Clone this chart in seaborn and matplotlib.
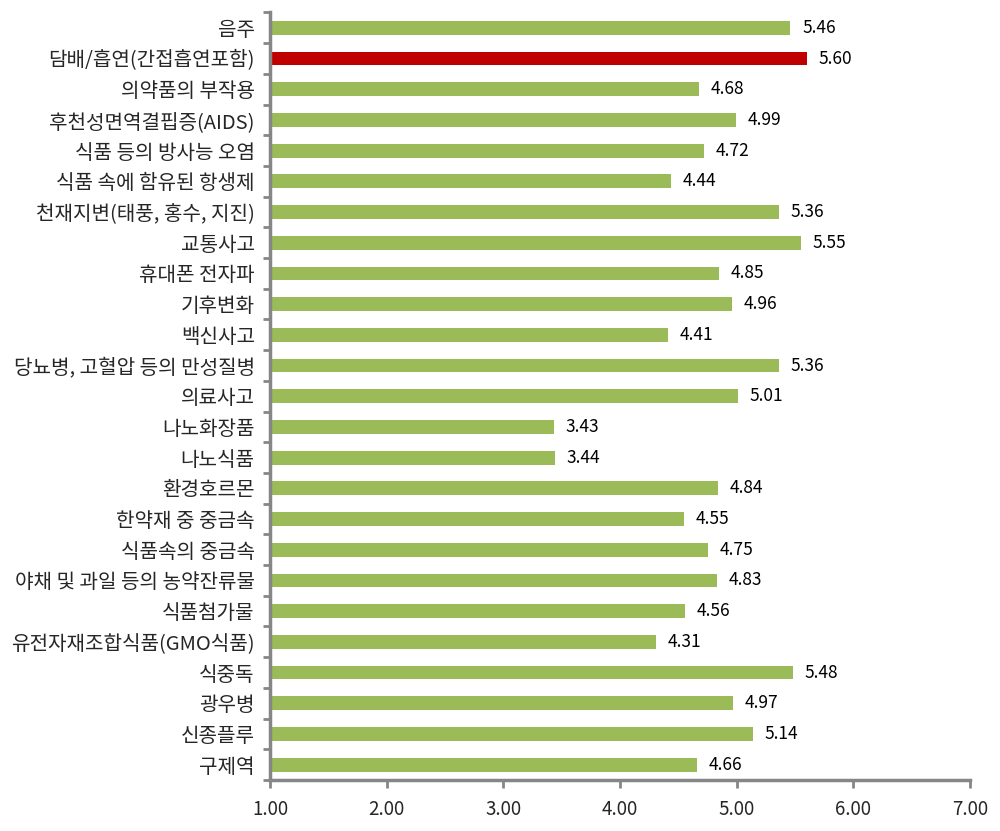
import matplotlib
matplotlib.use("Agg")
import matplotlib.pyplot as plt
import seaborn as sns
import numpy as np
import pandas as pd

categories = ["음주", "담배/흡연(간접흡연포함)", "의약품의 부작용", "후천성면역결핍증(AIDS)",
              "식품 등의 방사능 오염", "식품 속에 함유된 항생제", "천재지변(태풍, 홍수, 지진)",
              "교통사고", "휴대폰 전자파", "기후변화", "백신사고", "당뇨병, 고혈압 등의 만성질병",
              "의료사고", "나노화장품", "나노식품", "환경호르몬", "한약재 중 중금속",
              "식품속의 중금속", "야채 및 과일 등의 농약잔류물", "식품첨가물",
              "유전자재조합식품(GMO식품)", "식중독", "광우병", "신종플루", "구제역"]
values = [5.46, 5.60, 4.68, 4.99, 4.72, 4.44, 5.36, 5.55, 4.85, 4.96, 4.41, 5.36,
          5.01, 3.43, 3.44, 4.84, 4.55, 4.75, 4.83, 4.56, 4.31, 5.48, 4.97, 5.14, 4.66]
highlight = "담배/흡연(간접흡연포함)"
xticks = [1.0, 2.0, 3.0, 4.0, 5.0, 6.0, 7.0]

sns.set_style("white")
plt.rcParams['font.family'] = ['Noto Sans CJK KR', 'DejaVu Sans']

df = pd.DataFrame({"cat": categories, "val": values})
palette = {c: ("#C00000" if c == highlight else "#9BBB59") for c in categories}

fig = plt.figure(figsize=(10, 8.31), dpi=100)
ax = fig.add_axes([0.27, 0.0614, 0.70, 0.9236])

sns.barplot(data=df, x="val", y="cat", hue="cat", palette=palette, order=categories,
            orient="h", width=0.45, legend=False, ax=ax, saturation=1.0)

# bars start from 1.00 (axis minimum)
for p, v in zip(ax.patches, values):
    p.set_x(1.0)
    p.set_width(v - 1.0)
    p.set_linewidth(0)

ax.set_xlim(1.0, 7.0)
ax.set_ylim(len(categories) - 0.5, -0.5)
ax.set_xticks(xticks)
ax.set_xticklabels([f"{t:.2f}" for t in xticks], fontsize=13.5)
ax.set_yticks(range(len(categories)))
ax.set_yticklabels(categories, fontsize=14.5)
ax.set_yticks(np.arange(-0.5, len(categories), 1.0), minor=True)
ax.tick_params(axis="y", which="major", left=False, length=0, pad=11)
ax.tick_params(axis="y", which="minor", left=True, length=5, width=2, color="#868686", direction="out")
ax.tick_params(axis="x", which="major", bottom=True, length=6, width=2, color="#868686", direction="out", pad=8)
ax.set_xlabel("")
ax.set_ylabel("")

for s in ["top", "right"]:
    ax.spines[s].set_visible(False)
for s in ["left", "bottom"]:
    ax.spines[s].set_color("#868686")
    ax.spines[s].set_linewidth(2.5)

for i, v in enumerate(values):
    ax.text(v + 0.1, i, f"{v:.2f}", va="center", ha="left", fontsize=12.5, color="#000000")

fig.savefig("out.png", dpi=100, facecolor="white")
